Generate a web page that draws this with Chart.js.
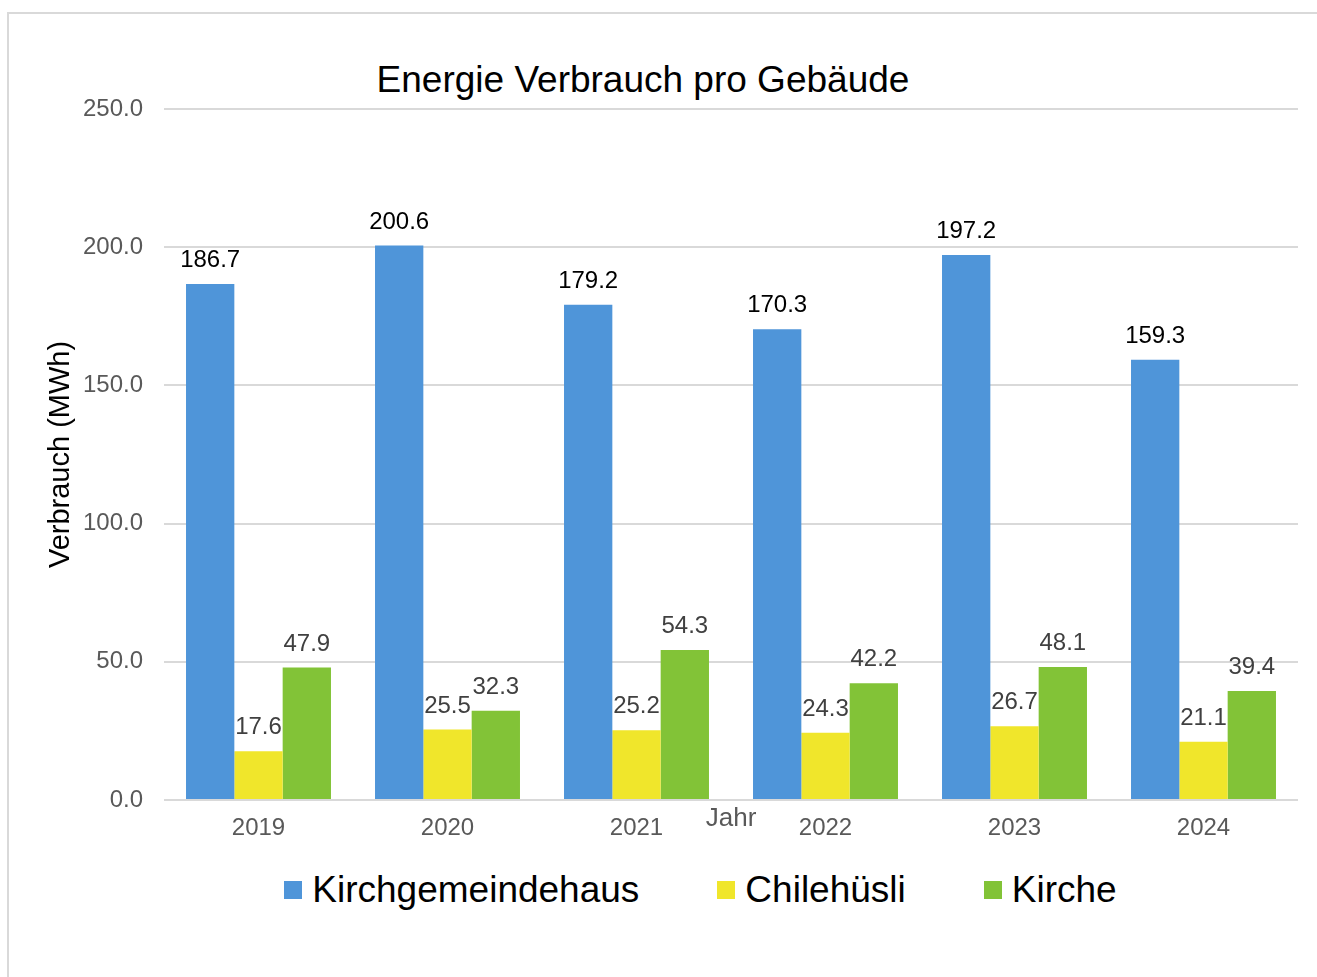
<!DOCTYPE html>
<html lang="de">
<head>
<meta charset="utf-8">
<title>Energie Verbrauch pro Gebäude</title>
<script src="https://cdn.jsdelivr.net/npm/chart.js@4.4.1/dist/chart.umd.min.js"></script>
<style>
  body { margin: 0; background: #fff; font-family: "Liberation Sans", Arial, sans-serif; }
  #cadre { position: absolute; left: 7px; top: 12px; width: 1320px; height: 980px; border-left: 2px solid #d9d9d9; border-top: 2px solid #d9d9d9; }
  #titel { position: absolute; left: 0; top: 58px; width: 1286px; text-align: center; font-size: 37px; line-height: 44px; color: #000; }
  #legende { position: absolute; left: 0; top: 868px; width: 1401px; display: flex; justify-content: center; align-items: center; height: 44px; }
  .item { display: flex; align-items: center; margin: 0 39px; font-size: 37px; line-height: 44px; color: #000; }
  .box { width: 18px; height: 18px; margin-right: 10px; }
  canvas { position: absolute; left: 0; top: 0; }
</style>
</head>
<body>
<div id="cadre"></div>
<div id="titel">Energie Verbrauch pro Gebäude</div>
<canvas id="chartVerbrauch" width="1317" height="860"></canvas>
<div id="legende"></div>
<script>
const jahre = ["2019", "2020", "2021", "2022", "2023", "2024"]
const kirchgemeindehaus = [186.7, 200.6, 179.2, 170.3, 197.2, 159.3]
const chilehuesli = [17.6, 25.5, 25.2, 24.3, 26.7, 21.1]
const kirche = [47.9, 32.3, 54.3, 42.2, 48.1, 39.4]
const yTicks = [0, 50, 100, 150, 200, 250]

const farben = ["#4f95d9", "#f0e62b", "#82c337"]
const farbenWerte = ["#000000", "#404040", "#404040"]

// Werte über den Balken
const wertePlugin = {
  id: 'werte',
  afterDatasetsDraw(chart) {
    const ctx = chart.ctx
    chart.data.datasets.forEach((ds, i) => {
      const meta = chart.getDatasetMeta(i)
      meta.data.forEach((bar, j) => {
        ctx.save()
        ctx.font = '24px "Liberation Sans", Arial, sans-serif'
        ctx.fillStyle = farbenWerte[i]
        ctx.textAlign = 'center'
        ctx.textBaseline = 'alphabetic'
        ctx.fillText(ds.data[j].toFixed(1), bar.x, bar.y - 17)
        ctx.restore()
      })
    })
  }
}

const data = {
  labels: jahre,
  datasets: [
    { label: "Kirchgemeindehaus", data: kirchgemeindehaus, backgroundColor: farben[0] },
    { label: "Chilehüsli", data: chilehuesli, backgroundColor: farben[1] },
    { label: "Kirche", data: kirche, backgroundColor: farben[2] }
  ]
}

const config = {
  type: 'bar',
  data: data,
  options: {
    responsive: false,
    animation: false,
    datasets: { bar: { categoryPercentage: 0.767, barPercentage: 1.0 } },
    layout: { padding: { top: 109, right: 19, left: 30, bottom: 10 } },
    plugins: {
      legend: { display: false },
      title: { display: false },
      tooltip: { enabled: false }
    },
    scales: {
      x: {
        grid: { display: false },
        border: { display: false },
        ticks: { color: '#595959', padding: 6, font: { size: 24, family: '"Liberation Sans", Arial, sans-serif' } },
        title: { display: true, text: 'Jahr', color: '#595959', padding: { top: 0, bottom: 16 }, font: { size: 26, family: '"Liberation Sans", Arial, sans-serif' } },
        afterFit: function(scale) { scale.height = 50 }
      },
      y: {
        min: 0,
        max: 250,
        afterBuildTicks: function(scale) { scale.ticks = yTicks.map(v => ({ value: v })) },
        grid: { color: '#d9d9d9', lineWidth: 2, drawTicks: false },
        border: { display: false },
        ticks: {
          color: '#595959', padding: 21,
          font: { size: 24, family: '"Liberation Sans", Arial, sans-serif' },
          callback: function(v) { return Number(v).toFixed(1) }
        },
        title: { display: true, text: 'Verbrauch (MWh)', color: '#000', padding: { top: 14, bottom: 0 }, font: { size: 29, family: '"Liberation Sans", Arial, sans-serif' } },
        afterFit: function(scale) { scale.width = 134 }
      }
    }
  },
  plugins: [wertePlugin]
}

const myChart = new Chart(document.getElementById('chartVerbrauch'), config)

// Legende als HTML
const legende = document.getElementById('legende')
myChart.data.datasets.forEach(ds => {
  const item = document.createElement('div')
  item.className = 'item'
  const box = document.createElement('span')
  box.className = 'box'
  box.style.background = ds.backgroundColor
  item.appendChild(box)
  item.appendChild(document.createTextNode(ds.label))
  legende.appendChild(item)
})
</script>
</body>
</html>
